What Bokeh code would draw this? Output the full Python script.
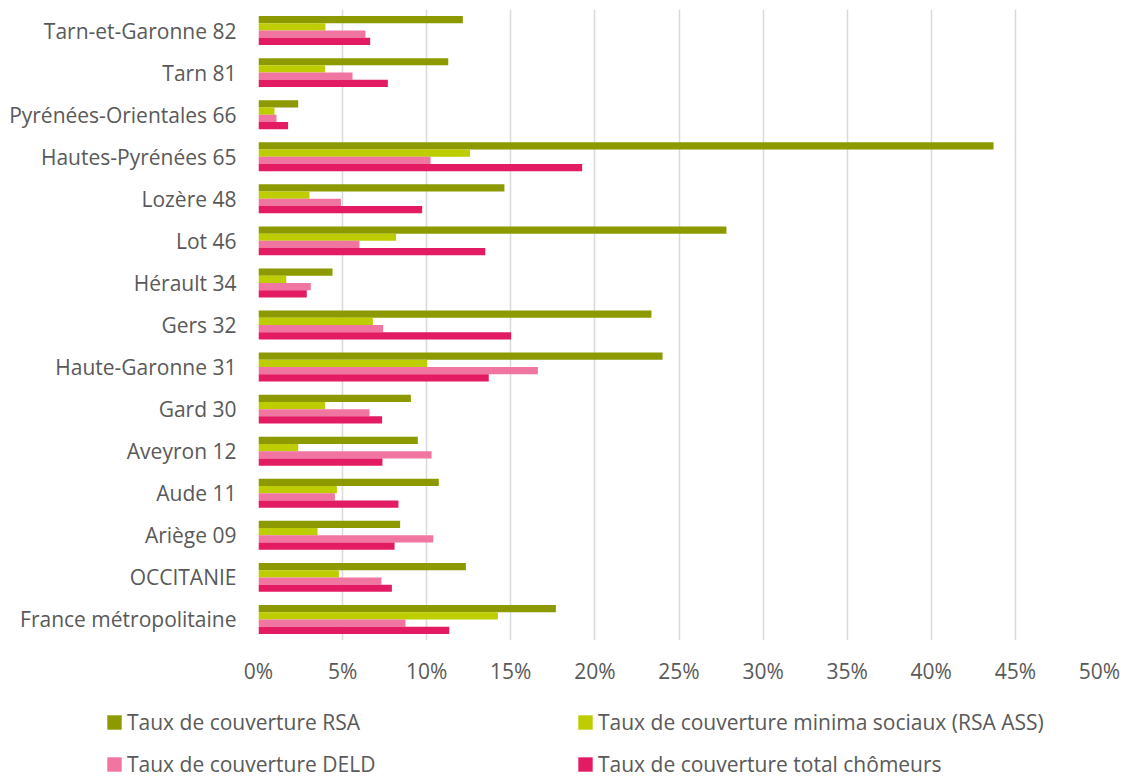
from bokeh.plotting import figure
from bokeh.layouts import column
from bokeh.models import (FactorRange, Range1d, ColumnDataSource, FixedTicker,
                          NumeralTickFormatter, Legend, LegendItem)
from bokeh.transform import dodge
from bokeh.embed import file_html
from bokeh.resources import INLINE

# Categories, top to bottom as displayed
categories = ["Tarn-et-Garonne 82", "Tarn 81", "Pyrénées-Orientales 66",
              "Hautes-Pyrénées 65", "Lozère 48", "Lot 46", "Hérault 34",
              "Gers 32", "Haute-Garonne 31", "Gard 30", "Aveyron 12",
              "Aude 11", "Ariège 09", "OCCITANIE", "France métropolitaine"]

taux_rsa = [0.1215, 0.1128, 0.0236, 0.437, 0.1462, 0.2782, 0.044, 0.2336,
            0.2402, 0.0906, 0.0947, 0.1072, 0.0842, 0.1233, 0.1768]
taux_minima = [0.0398, 0.0396, 0.0095, 0.1258, 0.0303, 0.0818, 0.0165, 0.068,
               0.1003, 0.0396, 0.0236, 0.0466, 0.0351, 0.0478, 0.1423]
taux_deld = [0.0636, 0.0559, 0.0107, 0.1023, 0.049, 0.060, 0.0311, 0.0741,
             0.1661, 0.066, 0.1029, 0.0454, 0.1039, 0.0731, 0.0874]
taux_total = [0.0664, 0.0769, 0.0176, 0.1924, 0.0973, 0.1348, 0.0287, 0.1502,
              0.1369, 0.0735, 0.0737, 0.0832, 0.0809, 0.0793, 0.1134]

series_labels = ["Taux de couverture RSA",
                 "Taux de couverture minima sociaux (RSA ASS)",
                 "Taux de couverture DELD",
                 "Taux de couverture total chômeurs"]
series_colors = ["#8C9A00", "#BDCD00", "#F075A0", "#E31B62"]
x_ticks = [0, 0.05, 0.10, 0.15, 0.20, 0.25, 0.30, 0.35, 0.40, 0.45, 0.50]

FONT = "Open Sans"
FONT_SIZE = "21px"
TEXT_COLOR = "#595959"

source = ColumnDataSource(dict(cat=categories, rsa=taux_rsa, minima=taux_minima,
                               deld=taux_deld, total=taux_total))

p = figure(y_range=FactorRange(factors=list(reversed(categories))),
           x_range=Range1d(0, 0.5),
           frame_width=841, frame_height=631,
           min_border_left=258, min_border_top=9, min_border_right=24,
           min_border_bottom=60,
           output_backend="svg", toolbar_location=None)

bar_h = 0.172
offsets = [1.5 * bar_h, 0.5 * bar_h, -0.5 * bar_h, -1.5 * bar_h]
fields = ["rsa", "minima", "deld", "total"]
for f, off, col in zip(fields, offsets, series_colors):
    p.hbar(y=dodge("cat", off, range=p.y_range), right=f, left=0,
           height=bar_h, source=source, fill_color=col, line_color=None)

# Axes
p.xaxis.ticker = FixedTicker(ticks=x_ticks)
p.xaxis.formatter = NumeralTickFormatter(format="0%")
p.xaxis.axis_line_color = None
p.xaxis.major_tick_line_color = None
p.xaxis.minor_tick_line_color = None
p.xaxis.major_label_standoff = 10
p.xaxis.major_label_text_font = FONT
p.xaxis.major_label_text_font_size = FONT_SIZE
p.xaxis.major_label_text_color = TEXT_COLOR

p.yaxis.axis_line_color = None
p.yaxis.major_tick_line_color = None
p.yaxis.minor_tick_line_color = None
p.yaxis.major_label_standoff = 16
p.yaxis.major_label_text_font = FONT
p.yaxis.major_label_text_font_size = FONT_SIZE
p.yaxis.major_label_text_color = TEXT_COLOR

p.xgrid.grid_line_color = "#D9D9D9"
p.xgrid.grid_line_width = 1.5
p.ygrid.grid_line_color = None
p.outline_line_color = None

# Legend strip below the chart
lg = figure(x_range=Range1d(0, 1), y_range=Range1d(0, 1),
            frame_width=1123, frame_height=78,
            min_border_left=0, min_border_right=0, min_border_top=0,
            min_border_bottom=0, x_axis_location=None, y_axis_location=None,
            output_backend="svg", toolbar_location=None)
lg.xgrid.grid_line_color = None
lg.ygrid.grid_line_color = None
lg.outline_line_color = None

legend_items = {}
for lab, col in zip(series_labels, series_colors):
    # swatch renderers kept outside the visible range of this strip
    r = lg.hbar(y=[-5], right=[-5], left=-6, height=0.1,
                fill_color=col, line_color=None)
    legend_items[lab] = LegendItem(label=lab, renderers=[r])

# column-major fill: column 1 = RSA, DELD ; column 2 = minima, total
order = [series_labels[0], series_labels[2], series_labels[1], series_labels[3]]
legend = Legend(items=[legend_items[k] for k in order], ncols=2, location=(105, 0),
                glyph_width=18, glyph_height=18, label_standoff=4,
                label_width=435, label_height=20, spacing=14, padding=0,
                margin=0, border_line_color=None, background_fill_alpha=0,
                label_text_font=FONT, label_text_font_size=FONT_SIZE,
                label_text_color=TEXT_COLOR)
lg.add_layout(legend)

layout = column(p, lg, spacing=0)
open("out.html", "w").write(file_html(layout, INLINE))
